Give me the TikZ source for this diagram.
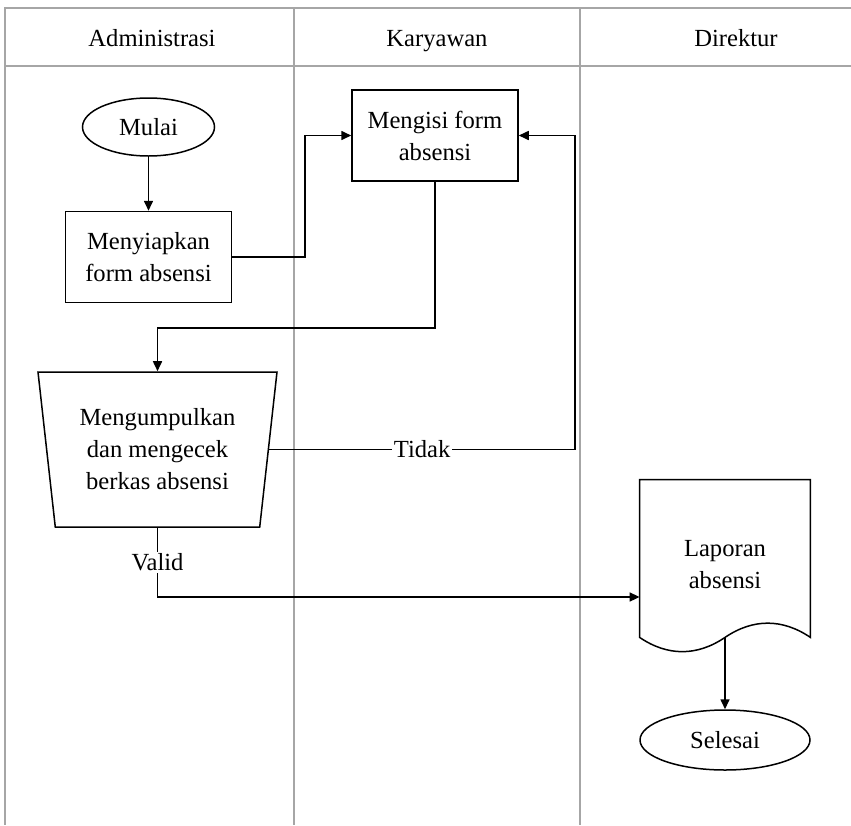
\documentclass[tikz,border=0pt]{standalone}
\usepackage{fontspec}
\setmainfont{Liberation Serif}
\usetikzlibrary{positioning}
\usetikzlibrary{shapes}
\usetikzlibrary{calc}
\usetikzlibrary{arrows.meta}
\begin{document}
\begin{tikzpicture}[x=0.5pt,y=-0.5pt,font=\fontsize{12.3pt}{16pt}\selectfont]
% parameter gaya
\tikzstyle garislajur=[color=black!35,line width=0.8pt]
\tikzstyle judullajur=[anchor=base]
\tikzstyle kotakproses=[draw,line width=0.75pt,minimum width=83pt,minimum height=45.5pt,align=center,inner sep=2pt]
\tikzstyle elipsterminal=[draw,ellipse,line width=0.75pt,inner sep=0pt]
\tikzstyle trapmanual=[draw,trapezium,shape border rotate=180,trapezium left angle=78,trapezium right angle=78,trapezium stretches body,minimum width=119.5pt,minimum height=77.5pt,line width=0.75pt,align=center,inner sep=0pt]
\tikzstyle panahalur=[line width=0.8pt,-{Triangle[length=5pt,width=4.5pt]}]
\tikzstyle labelalur=[fill=white,inner sep=1pt]
\useasboundingbox (0,0) rectangle (851,825);
% lajur
\draw [garislajur] (851,8) -- (5,8) -- (5,825);
\draw [garislajur] (5,66) -- (851,66);
\draw [garislajur] (294,8) -- (294,825);
\draw [garislajur] (580,8) -- (580,825);
\node [judullajur] (hadm) at (152,46) {Administrasi};
\node [judullajur] (hkar) at (437,46) {Karyawan};
\node [judullajur] (hdir) at (736,46) {Direktur};
% simpul
\node [elipsterminal,minimum width=66pt,minimum height=29pt] (mulai) at (148.5,127) {Mulai};
\node [kotakproses] (siap) at (148.5,257) {Menyiapkan\\form absensi};
\node [kotakproses] (isi) at (435,135.5) {Mengisi form\\absensi};
\node [trapmanual] (kumpul) at (157.5,449.5) {Mengumpulkan\\dan mengecek\\berkas absensi};
\node [minimum width=85pt,minimum height=85pt,align=center,inner sep=0pt] (lapor) at (725,565) {Laporan\\absensi};
\draw [line width=0.75pt] (lapor.north west) -- (lapor.north east) -- ($(lapor.south east)+(0,6.5pt)$)
  .. controls +(-28,-19) and +(28,-19) .. ($(lapor.south)+(0,6.5pt)$)
  .. controls +(-28,19) and +(28,19) .. ($(lapor.south west)+(0,6.5pt)$) -- cycle;
\node [elipsterminal,minimum width=85pt,minimum height=30pt] (selesai) at (725,740) {Selesai};
% alur
\draw [panahalur] (mulai) -- (siap);
\draw [panahalur] (siap.east) -- ++(73,0) |- (isi.west);
\draw [panahalur] (isi.south) -- ++(0,146) -| (kumpul.north);
\draw [panahalur] (kumpul.east) -- node[labelalur]{Tidak} ++(306,0) |- (isi.east);
\draw [panahalur] (kumpul.south) |- node[labelalur,pos=0.25]{Valid} ($(lapor.west)+(0,-16pt)$);
\draw [panahalur] ($(lapor.south)+(0,6.5pt)$) -- (selesai);
\end{tikzpicture}
\end{document}
